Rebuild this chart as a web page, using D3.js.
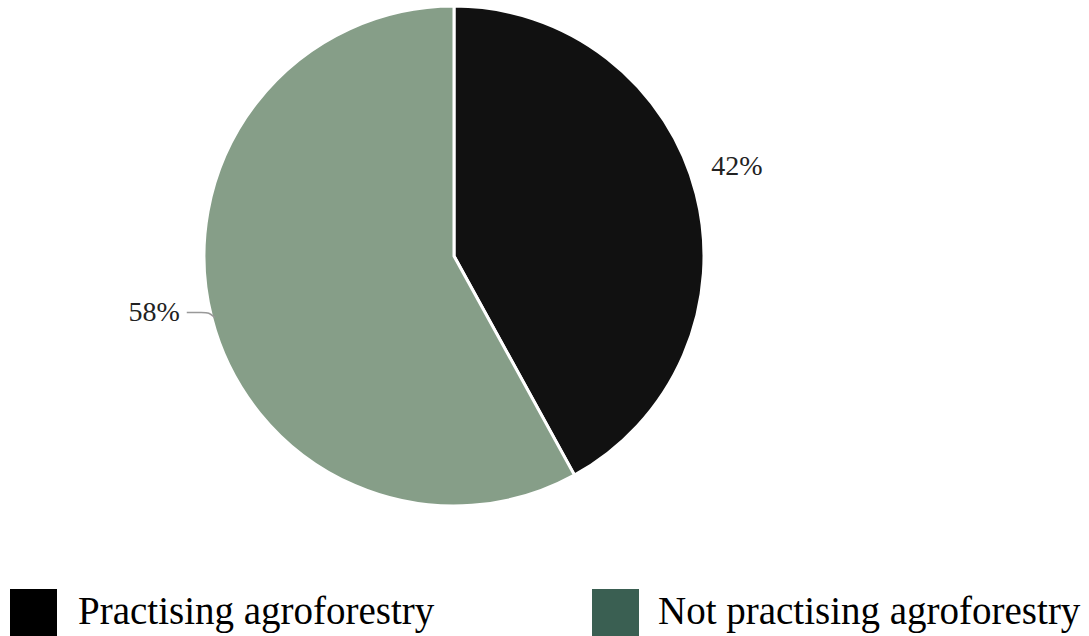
<!DOCTYPE html>
<html>
<head>
<meta charset="utf-8">
<script src="https://cdn.jsdelivr.net/npm/d3@7"></script>
<style>
  body { margin: 0; background: #fff; }
  svg { display: block; font-family: "Liberation Serif", "Times New Roman", serif; }
</style>
</head>
<body>
<svg width="1089" height="636"></svg>
<script>
const svg = d3.select("svg");

// data
const categories = ["Practising agroforestry", "Not practising agroforestry"];
const shares = [42, 58];
const sliceColors = ["#111111", "#869e88"];
const legendColors = ["#000000", "#3a5f52"];

const cx = 454, cy = 256, radius = 250;

const pie = d3.pie().sort(null).value(d => d.value);
const arcs = pie(categories.map((c, i) => ({name: c, value: shares[i]})));
const arc = d3.arc().innerRadius(0).outerRadius(radius);

const g = svg.append("g").attr("transform", `translate(${cx},${cy})`);

g.selectAll("path.slice")
  .data(arcs)
  .join("path")
  .attr("class", "slice")
  .attr("d", arc)
  .attr("fill", (d, i) => sliceColors[i])
  .attr("stroke", "#fff")
  .attr("stroke-width", 3);

// point at radius r along the slice mid angle
function polar(d, r) {
  const a = (d.startAngle + d.endAngle) / 2;
  return [r * Math.sin(a), -r * Math.cos(a)];
}

// 42% label on the right
const p0 = polar(arcs[0], 292);
g.append("text")
  .attr("x", p0[0])
  .attr("y", p0[1] - 8)
  .attr("text-anchor", "middle")
  .attr("fill", "#222")
  .style("font-size", "28px")
  .text(shares[0] + "%");

// 58% label on the left with leader line
const e = polar(arcs[1], 247);
const labelY = e[1] - 5;
const labelX = e[0] - 35;
g.append("path")
  .attr("d", d3.line().curve(d3.curveBasis)([
    [e[0], e[1]], [e[0] - 6, labelY], [e[0] - 12, labelY], [labelX + 7, labelY]
  ]))
  .attr("fill", "none")
  .attr("stroke", "#999")
  .attr("stroke-width", 1.5);

g.append("text")
  .attr("x", labelX)
  .attr("y", labelY + 9)
  .attr("text-anchor", "end")
  .attr("fill", "#222")
  .style("font-size", "28px")
  .text(shares[1] + "%");

// legend
const legendX = [10, 592];
const legend = svg.append("g");
categories.forEach((c, i) => {
  const row = legend.append("g").attr("transform", `translate(${legendX[i]},589)`);
  row.append("rect")
    .attr("width", 47).attr("height", 47)
    .attr("fill", legendColors[i]);
  row.append("text")
    .attr("x", i === 0 ? 68 : 66).attr("y", 35)
    .attr("fill", "#000")
    .style("font-size", "39px")
    .text(c);
});
</script>
</body>
</html>
